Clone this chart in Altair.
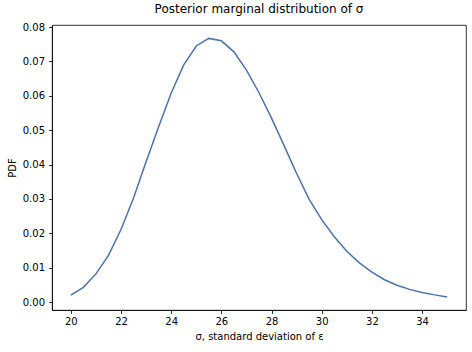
import altair as alt
import pandas as pd

sigma = [20.0, 20.5, 21.0, 21.5, 22.0, 22.5, 23.0, 23.5, 24.0, 24.5, 25.0,
         25.5, 26.0, 26.5, 27.0, 27.5, 28.0, 28.5, 29.0, 29.5, 30.0,
         30.5, 31.0, 31.5, 32.0, 32.5, 33.0, 33.5, 34.0, 34.5, 35.0]
pdf = [0.0020, 0.0043, 0.0082, 0.0136, 0.0211, 0.0303, 0.0408, 0.0510, 0.0608, 0.0690, 0.0745,
       0.0767, 0.0760, 0.0728, 0.0675, 0.0609, 0.0535, 0.0455, 0.0374, 0.0299, 0.0240,
       0.0190, 0.0148, 0.0114, 0.0087, 0.0065, 0.0049, 0.0037, 0.0028, 0.0021, 0.0015]
x_ticks = [20, 22, 24, 26, 28, 30, 32, 34]
y_ticks = [0.00, 0.01, 0.02, 0.03, 0.04, 0.05, 0.06, 0.07, 0.08]

df = pd.DataFrame({"sigma": sigma, "pdf": pdf})

FONT = "DejaVu Sans"

chart = alt.Chart(df).mark_line(color="#4c72b0", strokeWidth=1.5).encode(
    x=alt.X("sigma:Q",
            scale=alt.Scale(domain=[19.25, 35.75], nice=False, zero=False),
            axis=alt.Axis(values=x_ticks, title="σ, standard deviation of ε",
                          format="d", grid=False, tickSize=3.5, labelPadding=3,
                          titlePadding=5, labelFlush=False)),
    y=alt.Y("pdf:Q",
            scale=alt.Scale(domain=[-0.0023, 0.0806], nice=False, zero=False),
            axis=alt.Axis(values=y_ticks, title="PDF", format=".2f", grid=False,
                          tickSize=3.5, labelPadding=4, titlePadding=5, labelFlush=False)),
).properties(
    width=414,
    height=285,
    background="white",
    title=alt.TitleParams("Posterior marginal distribution of σ", fontSize=12,
                          font=FONT, fontWeight="normal", color="black",
                          anchor="middle", offset=6),
    autosize=alt.AutoSizeParams(type="none"),
    padding={"left": 52, "top": 25, "right": 6, "bottom": 42},
).configure_view(
    stroke="black", strokeWidth=0.8
).configure_axis(
    labelFont=FONT, titleFont=FONT, labelFontSize=10, titleFontSize=10,
    labelColor="black", titleColor="black", titleFontWeight="normal",
    domainColor="black", domainWidth=0.8, tickColor="black", tickWidth=0.8
)

chart.save("out.html", embed_options={"renderer": "svg", "actions": False})
